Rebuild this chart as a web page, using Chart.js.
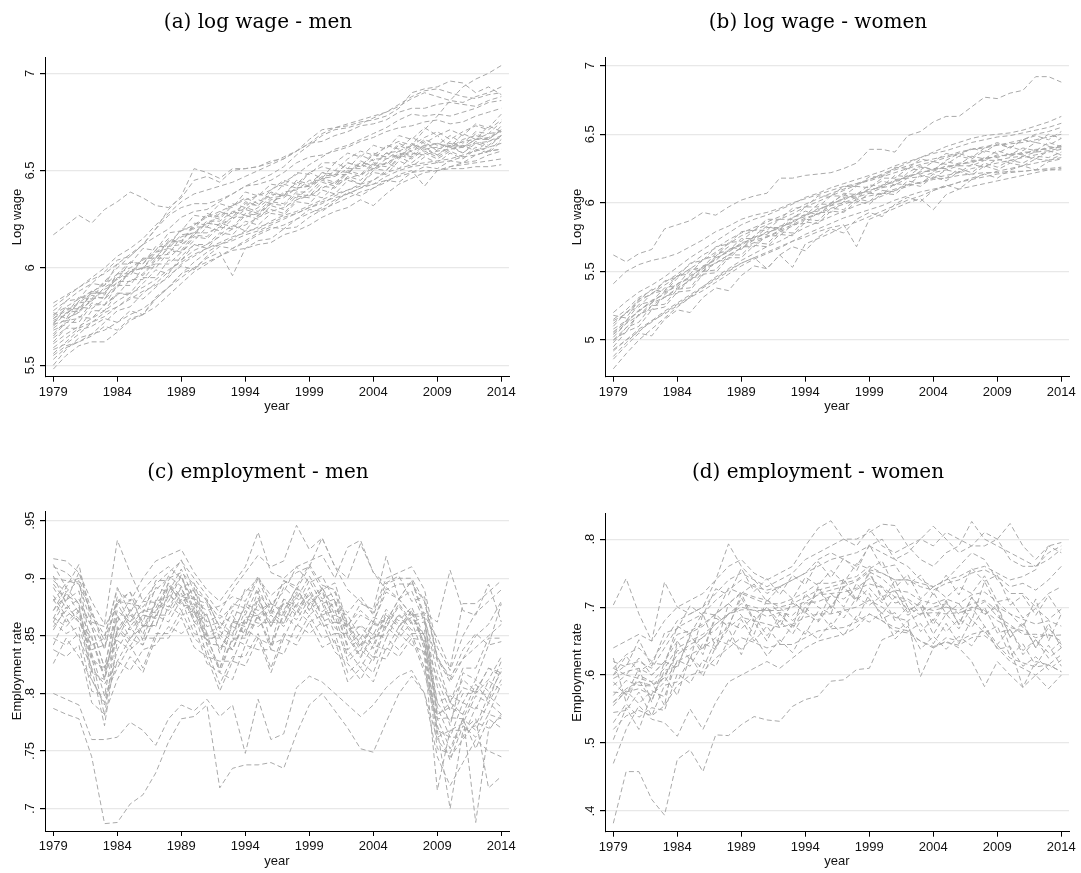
<!DOCTYPE html>
<html>
<head>
<meta charset="utf-8">
<script src="https://cdn.jsdelivr.net/npm/chart.js@4.4.0/dist/chart.umd.min.js"></script>
<style>
  body { margin: 0; background: #fff; width: 1081px; height: 873px; position: relative; overflow: hidden; }
  canvas { position: absolute; }
</style>
</head>
<body>
<canvas id="cA" width="540" height="436" style="left:0;top:0"></canvas>
<canvas id="cB" width="521" height="436" style="left:560px;top:0"></canvas>
<canvas id="cC" width="540" height="437" style="left:0;top:436px"></canvas>
<canvas id="cD" width="521" height="437" style="left:560px;top:436px"></canvas>
<script>
// years on the x axis
const years = [1979,1980,1981,1982,1983,1984,1985,1986,1987,1988,1989,1990,1991,1992,1993,1994,1995,1996,
               1997,1998,1999,2000,2001,2002,2003,2004,2005,2006,2007,2008,2009,2010,2011,2012,2013,2014];
const xTicks = [1979, 1984, 1989, 1994, 1999, 2004, 2009, 2014];

// tick labels of each panel
const ticksWageMen = [5.5, 6, 6.5, 7];
const ticksWageWomen = [5, 5.5, 6, 6.5, 7];
const ticksEmpMen = [0.7, 0.75, 0.8, 0.85, 0.9, 0.95];
const ticksEmpWomen = [0.4, 0.5, 0.6, 0.7, 0.8];

// (a) log wage - men, one row per state
const wageMen = [
  [6.17,6.22,6.27,6.23,6.30,6.34,6.39,6.36,6.32,6.31,6.36,6.45,6.47,6.44,6.50,6.51,6.52,6.55,6.56,6.60,6.66,6.71,6.72,6.73,6.75,6.76,6.78,6.82,6.90,6.92,6.93,6.96,6.95,6.90,6.93,6.89],
  [5.55,5.60,5.62,5.66,5.68,5.72,5.76,5.79,5.84,5.90,5.95,6.00,6.03,6.06,6.10,6.13,6.17,6.20,6.22,6.25,6.28,6.31,6.35,6.38,6.41,6.45,6.50,6.56,6.63,6.71,6.78,6.86,6.93,6.97,7.00,7.04],
  [5.82,5.86,5.90,5.95,6.00,6.06,6.10,6.15,6.22,6.28,6.34,6.38,6.40,6.42,6.44,6.47,6.50,6.53,6.56,6.60,6.64,6.69,6.72,6.74,6.76,6.78,6.80,6.84,6.88,6.91,6.92,6.90,6.88,6.87,6.89,6.90],
  [5.74,5.78,5.82,5.87,5.93,6.00,6.06,6.12,6.20,6.27,6.31,6.33,6.33,6.35,6.38,6.42,6.45,6.48,6.52,6.58,6.63,6.68,6.71,6.72,6.74,6.77,6.80,6.83,6.87,6.90,6.88,6.86,6.85,6.88,6.90,6.93],
  [5.80,5.85,5.90,5.94,5.97,6.02,6.07,6.12,6.20,6.30,6.37,6.51,6.49,6.46,6.51,6.51,6.52,6.54,6.57,6.60,6.64,6.65,6.68,6.70,6.73,6.74,6.76,6.80,6.82,6.82,6.84,6.85,6.84,6.83,6.86,6.88],
  [5.75,5.83,5.84,5.92,5.91,6.02,6.02,6.10,6.09,6.18,6.19,6.27,6.26,6.33,6.31,6.39,6.37,6.43,6.42,6.49,6.48,6.54,6.54,6.59,6.57,6.63,6.61,6.68,6.66,6.72,6.68,6.71,6.68,6.74,6.72,6.79],
  [5.72,5.76,5.85,5.84,5.93,5.94,6.03,6.02,6.11,6.11,6.20,6.20,6.28,6.26,6.33,6.31,6.38,6.36,6.43,6.41,6.49,6.46,6.54,6.51,6.58,6.55,6.63,6.61,6.67,6.64,6.68,6.62,6.69,6.66,6.73,6.70],
  [5.70,5.77,5.78,5.83,5.89,5.92,5.98,6.00,6.06,6.07,6.16,6.18,6.23,6.22,6.29,6.27,6.31,6.36,6.37,6.41,6.42,6.47,6.48,6.48,6.55,6.52,6.59,6.57,6.64,6.61,6.62,6.64,6.62,6.66,6.67,6.70],
  [5.68,5.71,5.80,5.79,5.84,5.93,5.93,5.97,6.05,6.05,6.11,6.18,6.18,6.21,6.26,6.26,6.28,6.34,6.33,6.39,6.39,6.45,6.43,6.50,6.48,6.54,6.53,6.59,6.57,6.62,6.58,6.63,6.59,6.65,6.63,6.68],
  [5.65,5.72,5.72,5.81,5.81,5.86,5.94,5.94,6.02,6.02,6.08,6.16,6.15,6.21,6.20,6.27,6.25,6.32,6.30,6.37,6.36,6.42,6.41,6.47,6.45,6.51,6.50,6.57,6.54,6.59,6.56,6.60,6.57,6.62,6.60,6.66],
  [5.73,5.76,5.82,5.83,5.90,5.94,5.99,6.00,6.08,6.10,6.17,6.18,6.24,6.24,6.29,6.30,6.35,6.33,6.39,6.40,6.45,6.45,6.50,6.49,6.54,6.53,6.59,6.60,6.63,6.62,6.64,6.62,6.65,6.66,6.69,6.70],
  [5.62,5.69,5.69,5.78,5.78,5.87,5.87,5.95,5.95,6.04,6.04,6.12,6.12,6.18,6.17,6.24,6.22,6.28,6.27,6.34,6.33,6.40,6.38,6.45,6.43,6.49,6.48,6.55,6.52,6.57,6.54,6.59,6.56,6.61,6.59,6.65],
  [5.50,5.58,5.64,5.66,5.72,5.78,5.80,5.87,5.92,5.98,6.04,6.09,6.12,6.16,6.20,6.22,6.26,6.29,6.31,6.35,6.37,6.41,6.44,6.46,6.48,6.51,6.54,6.57,6.59,6.58,6.60,6.61,6.62,6.64,6.65,6.68],
  [5.48,5.55,5.60,5.62,5.62,5.67,5.73,5.76,5.84,5.90,5.97,6.00,6.05,6.08,5.96,6.10,6.14,6.15,6.20,6.21,6.26,6.30,6.33,6.36,6.39,6.41,6.44,6.48,6.50,6.42,6.50,6.52,6.54,6.55,6.58,6.60],
  [5.53,5.59,5.62,5.65,5.70,5.68,5.74,5.76,5.80,5.86,5.92,5.98,6.02,6.06,6.09,6.10,6.12,6.13,6.17,6.19,6.22,6.26,6.29,6.31,6.35,6.32,6.38,6.43,6.46,6.49,6.50,6.52,6.53,6.54,6.55,6.56],
  [5.58,5.61,5.66,5.72,5.77,5.80,5.84,5.88,5.91,5.95,6.02,6.06,6.10,6.12,6.15,6.19,6.20,6.24,6.27,6.29,6.32,6.35,6.38,6.40,6.43,6.45,6.49,6.51,6.53,6.54,6.55,6.56,6.58,6.60,6.62,6.64],
  [5.78,5.83,5.88,5.92,5.98,6.04,6.06,6.12,6.16,6.20,6.26,6.29,6.30,6.34,6.38,6.42,6.43,6.45,6.49,6.54,6.57,6.58,6.60,6.62,6.65,6.67,6.70,6.72,6.73,6.75,6.76,6.74,6.75,6.78,6.80,6.82],
  [5.69,5.74,5.77,5.84,5.85,5.91,5.98,6.00,6.02,6.11,6.12,6.17,6.23,6.22,6.26,6.31,6.29,6.35,6.36,6.41,6.42,6.46,6.47,6.51,6.51,6.56,6.56,6.58,6.60,6.63,6.61,6.63,6.62,6.66,6.66,6.71],
  [5.66,5.73,5.74,5.82,5.81,5.91,5.91,6.00,6.00,6.08,6.09,6.17,6.16,6.23,6.21,6.28,6.27,6.33,6.32,6.38,6.37,6.44,6.42,6.49,6.47,6.53,6.52,6.58,6.56,6.61,6.58,6.62,6.59,6.64,6.62,6.68],
  [5.56,5.62,5.68,5.70,5.74,5.72,5.78,5.76,5.85,5.90,5.97,6.03,6.08,6.12,6.14,6.17,6.19,6.22,6.25,6.28,6.31,6.33,6.37,6.40,6.42,6.43,6.47,6.50,6.52,6.53,6.54,6.55,6.57,6.58,6.60,6.61],
  [5.76,5.80,5.84,5.88,5.91,5.97,6.00,6.04,6.08,6.13,6.19,6.22,6.26,6.29,6.32,6.35,6.37,6.40,6.44,6.48,6.53,6.57,6.61,6.63,6.66,6.69,6.72,6.76,6.79,6.78,6.79,6.78,6.80,6.82,6.85,6.86],
  [5.71,5.80,5.77,5.88,5.87,5.97,5.97,6.05,6.05,6.14,6.13,6.23,6.22,6.29,6.26,6.34,6.32,6.39,6.37,6.45,6.43,6.49,6.48,6.54,6.52,6.58,6.57,6.63,6.60,6.65,6.60,6.65,6.62,6.69,6.66,6.73],
  [5.61,5.66,5.70,5.74,5.78,5.83,5.87,5.90,5.94,5.99,6.03,6.07,6.10,6.13,6.16,6.18,6.21,6.23,6.26,6.28,6.31,6.34,6.36,6.38,6.41,6.43,6.45,6.47,6.49,6.50,6.50,6.51,6.51,6.52,6.52,6.53],
  [5.74,5.79,5.79,5.87,5.87,5.95,5.96,6.05,6.05,6.13,6.14,6.21,6.21,6.28,6.28,6.33,6.32,6.38,6.37,6.44,6.42,6.49,6.47,6.54,6.52,6.59,6.57,6.64,6.61,6.66,6.63,6.68,6.64,6.70,6.69,6.75],
  [5.77,5.74,5.83,5.88,5.86,5.97,6.03,6.02,6.09,6.15,6.13,6.22,6.27,6.25,6.32,6.36,6.33,6.40,6.45,6.43,6.49,6.52,6.50,6.56,6.60,6.58,6.62,6.65,6.63,6.67,6.70,6.66,6.70,6.73,6.71,6.76],
  [5.64,5.69,5.75,5.74,5.81,5.87,5.86,5.92,5.99,5.97,6.06,6.12,6.10,6.17,6.22,6.19,6.27,6.30,6.28,6.35,6.38,6.36,6.42,6.46,6.43,6.50,6.54,6.51,6.57,6.60,6.57,6.61,6.63,6.60,6.65,6.67],
  [5.71,5.73,5.79,5.86,5.84,5.90,5.98,5.96,6.04,6.10,6.08,6.14,6.21,6.19,6.25,6.30,6.28,6.33,6.38,6.36,6.41,6.46,6.44,6.49,6.53,6.51,6.56,6.60,6.58,6.63,6.64,6.62,6.66,6.68,6.66,6.71],
  [5.59,5.64,5.69,5.72,5.75,5.80,5.85,5.84,5.90,5.96,6.01,5.99,6.06,6.11,6.10,6.14,6.18,6.21,6.20,6.25,6.30,6.29,6.34,6.39,6.37,6.41,6.45,6.44,6.49,6.52,6.51,6.55,6.54,6.58,6.60,6.61]
];

// (b) log wage - women
const wageWomen = [
  [5.62,5.57,5.63,5.66,5.81,5.84,5.87,5.93,5.91,5.97,6.02,6.05,6.07,6.18,6.18,6.20,6.21,6.22,6.25,6.29,6.39,6.39,6.37,6.49,6.52,6.59,6.63,6.63,6.70,6.77,6.76,6.80,6.82,6.92,6.92,6.88],
  [5.41,5.50,5.55,5.58,5.60,5.63,5.68,5.73,5.79,5.83,5.88,5.91,5.93,5.96,6.00,6.03,6.06,6.09,6.12,6.14,6.16,6.19,6.22,6.25,6.28,6.30,6.33,6.36,6.39,6.40,6.42,6.44,6.46,6.50,6.52,6.55],
  [5.20,5.28,5.35,5.40,5.46,5.53,5.60,5.66,5.72,5.78,5.84,5.88,5.91,5.95,5.99,6.04,6.07,6.11,6.14,6.17,6.20,6.23,6.27,6.30,6.33,6.36,6.38,6.41,6.44,6.46,6.48,6.49,6.51,6.53,6.55,6.58],
  [5.15,5.22,5.31,5.36,5.42,5.48,5.55,5.62,5.67,5.73,5.78,5.82,5.86,5.90,5.94,5.99,6.03,6.07,6.10,6.14,6.17,6.20,6.24,6.27,6.30,6.32,6.34,6.37,6.39,6.41,6.42,6.43,6.44,6.46,6.48,6.50],
  [5.10,5.20,5.24,5.34,5.36,5.47,5.48,5.59,5.61,5.71,5.72,5.80,5.80,5.88,5.88,5.97,5.97,6.05,6.05,6.12,6.11,6.18,6.18,6.25,6.24,6.30,6.28,6.34,6.32,6.38,6.36,6.41,6.38,6.44,6.42,6.47],
  [5.05,5.14,5.21,5.29,5.33,5.41,5.45,5.54,5.58,5.66,5.69,5.75,5.77,5.83,5.85,5.92,5.94,6.00,6.02,6.07,6.08,6.13,6.15,6.20,6.21,6.25,6.25,6.29,6.29,6.33,6.33,6.36,6.35,6.39,6.39,6.42],
  [5.04,5.12,5.22,5.27,5.35,5.39,5.47,5.52,5.60,5.64,5.71,5.73,5.79,5.81,5.87,5.90,5.96,5.98,6.04,6.05,6.10,6.11,6.17,6.18,6.23,6.23,6.27,6.27,6.31,6.31,6.35,6.34,6.37,6.37,6.41,6.40],
  [5.00,5.06,5.19,5.22,5.32,5.34,5.45,5.47,5.57,5.59,5.68,5.68,5.76,5.76,5.84,5.85,5.93,5.93,6.01,6.00,6.07,6.06,6.14,6.13,6.20,6.18,6.24,6.22,6.28,6.26,6.32,6.29,6.34,6.32,6.38,6.35],
  [4.95,5.06,5.10,5.22,5.24,5.35,5.36,5.48,5.49,5.60,5.60,5.69,5.68,5.77,5.76,5.86,5.85,5.94,5.93,6.01,5.99,6.07,6.06,6.14,6.12,6.19,6.16,6.23,6.20,6.27,6.24,6.29,6.27,6.32,6.31,6.35],
  [4.79,4.90,5.00,5.08,5.16,5.24,5.31,5.39,5.46,5.52,5.58,5.63,5.68,5.72,5.77,5.82,5.86,5.90,5.94,5.98,6.01,6.05,6.09,6.12,6.15,6.18,6.20,6.22,6.25,6.27,6.29,6.31,6.33,6.35,6.37,6.39],
  [4.88,4.98,5.07,5.13,5.20,5.26,5.32,5.38,5.44,5.50,5.56,5.60,5.52,5.62,5.53,5.70,5.74,5.78,5.83,5.86,5.90,5.94,5.98,6.02,6.05,6.09,6.12,6.15,6.18,6.21,6.23,6.25,6.27,6.29,6.31,6.33],
  [4.92,5.00,5.06,5.14,5.19,5.25,5.31,5.36,5.42,5.48,5.54,5.59,5.63,5.67,5.72,5.75,5.79,5.82,5.84,5.68,5.88,5.92,5.96,6.00,6.03,5.95,6.06,6.10,6.12,6.14,6.16,6.18,6.20,6.22,6.24,6.25],
  [5.12,5.20,5.28,5.34,5.40,5.46,5.52,5.58,5.64,5.70,5.76,5.80,5.84,5.88,5.92,5.97,6.01,6.05,6.09,6.13,6.17,6.21,6.25,6.29,6.33,6.37,6.41,6.44,6.47,6.49,6.50,6.51,6.53,6.56,6.59,6.63],
  [5.02,5.12,5.18,5.27,5.31,5.38,5.43,5.52,5.56,5.62,5.67,5.73,5.75,5.80,5.84,5.89,5.92,5.98,6.00,6.04,6.07,6.11,6.13,6.18,6.19,6.22,6.24,6.27,6.27,6.31,6.31,6.33,6.34,6.37,6.38,6.40],
  [4.93,5.00,5.08,5.14,5.21,5.27,5.33,5.39,5.45,5.51,5.56,5.60,5.64,5.68,5.72,5.77,5.81,5.85,5.89,5.92,5.95,5.98,6.02,6.05,6.08,6.10,6.12,6.15,6.17,6.19,6.21,6.22,6.23,6.24,6.25,6.26],
  [5.08,5.14,5.26,5.28,5.38,5.40,5.51,5.53,5.63,5.65,5.74,5.74,5.82,5.82,5.90,5.91,5.99,5.99,6.07,6.06,6.13,6.12,6.20,6.19,6.26,6.24,6.30,6.28,6.34,6.32,6.38,6.35,6.40,6.38,6.44,6.41],
  [5.14,5.19,5.30,5.33,5.43,5.46,5.56,5.58,5.68,5.70,5.79,5.80,5.88,5.88,5.96,5.97,6.05,6.05,6.12,6.12,6.19,6.19,6.26,6.25,6.32,6.30,6.36,6.34,6.40,6.37,6.43,6.40,6.46,6.44,6.50,6.47],
  [4.98,5.09,5.13,5.25,5.26,5.37,5.38,5.50,5.51,5.62,5.62,5.71,5.70,5.79,5.78,5.88,5.87,5.96,5.95,6.03,6.01,6.09,6.08,6.16,6.14,6.21,6.18,6.25,6.22,6.29,6.26,6.31,6.29,6.34,6.33,6.37],
  [5.06,5.13,5.21,5.28,5.34,5.41,5.46,5.53,5.59,5.65,5.70,5.75,5.78,5.82,5.86,5.91,5.95,5.99,6.03,6.06,6.09,6.12,6.16,6.19,6.22,6.24,6.26,6.28,6.30,6.32,6.34,6.35,6.36,6.38,6.40,6.41],
  [5.00,5.09,5.18,5.25,5.31,5.37,5.44,5.50,5.56,5.62,5.67,5.71,5.75,5.79,5.83,5.88,5.92,5.96,5.99,6.02,6.05,6.07,6.10,6.13,6.15,6.17,6.18,6.20,6.21,6.22,6.22,6.23,6.23,6.24,6.24,6.24],
  [5.18,5.16,5.29,5.37,5.35,5.45,5.52,5.50,5.61,5.68,5.66,5.76,5.83,5.80,5.89,5.94,5.91,6.00,6.06,6.03,6.11,6.16,6.13,6.22,6.27,6.24,6.31,6.36,6.33,6.40,6.44,6.40,6.46,6.49,6.46,6.52],
  [4.86,4.96,5.05,5.03,5.15,5.22,5.20,5.31,5.38,5.36,5.47,5.54,5.52,5.62,5.68,5.65,5.75,5.81,5.78,5.88,5.93,5.90,5.99,6.04,6.01,6.09,6.13,6.10,6.17,6.21,6.18,6.24,6.27,6.24,6.30,6.32]
];

// (c) employment - men
const empMen = [
  [.787,.782,.778,.745,.687,.688,.704,.712,.731,.758,.778,.780,.790,.718,.735,.738,.738,.740,.735,.765,.790,.800,.785,.770,.752,.749,.775,.800,.815,.800,.745,.720,.740,.760,.750,.745],
  [.800,.795,.790,.760,.760,.762,.775,.768,.755,.778,.790,.785,.795,.780,.790,.748,.795,.760,.765,.805,.815,.810,.800,.790,.780,.790,.805,.815,.820,.800,.760,.745,.760,.775,.770,.780],
  [.917,.915,.905,.880,.860,.933,.905,.880,.895,.905,.915,.900,.885,.870,.890,.905,.920,.910,.915,.946,.925,.935,.910,.890,.880,.870,.900,.905,.910,.890,.840,.820,.850,.870,.880,.890],
  [.910,.905,.895,.870,.850,.890,.880,.900,.915,.920,.925,.905,.890,.880,.895,.910,.940,.905,.900,.910,.915,.920,.900,.927,.933,.905,.895,.900,.900,.880,.830,.810,.830,.850,.860,.880],
  [.895,.880,.905,.872,.838,.884,.862,.880,.879,.902,.893,.896,.862,.868,.861,.891,.887,.872,.898,.893,.912,.894,.890,.858,.878,.873,.919,.882,.889,.862,.806,.772,.818,.812,.842,.845],
  [.872,.892,.878,.818,.812,.852,.871,.846,.880,.884,.903,.872,.846,.851,.838,.866,.868,.871,.861,.886,.878,.890,.862,.858,.837,.861,.858,.878,.862,.866,.781,.792,.782,.808,.794,.822],
  [.862,.881,.889,.832,.781,.858,.846,.868,.866,.892,.884,.882,.842,.821,.862,.858,.889,.842,.882,.876,.898,.878,.882,.838,.848,.839,.868,.858,.869,.843,.788,.762,.792,.786,.811,.803],
  [.866,.858,.871,.812,.792,.838,.858,.842,.868,.868,.887,.862,.852,.818,.848,.848,.868,.838,.871,.864,.882,.862,.868,.832,.843,.831,.862,.852,.872,.838,.762,.768,.774,.798,.792,.812],
  [.892,.874,.882,.858,.822,.878,.858,.872,.874,.896,.878,.892,.858,.862,.852,.876,.868,.878,.872,.892,.872,.892,.872,.868,.848,.866,.862,.882,.868,.866,.818,.792,.812,.802,.822,.818],
  [.842,.866,.848,.822,.772,.846,.838,.848,.848,.876,.868,.872,.832,.828,.828,.856,.848,.842,.848,.872,.862,.868,.842,.838,.822,.842,.838,.858,.848,.846,.768,.762,.762,.788,.782,.808],
  [.882,.862,.872,.828,.822,.848,.868,.858,.878,.872,.892,.862,.868,.838,.858,.852,.878,.858,.878,.868,.888,.868,.872,.842,.852,.842,.868,.858,.872,.842,.768,.700,.768,.772,.798,.788],
  [.858,.872,.862,.848,.812,.868,.848,.858,.858,.888,.872,.878,.848,.848,.838,.862,.858,.868,.858,.878,.868,.878,.852,.852,.832,.852,.848,.868,.852,.852,.782,.788,.782,.688,.768,.782],
  [.862,.852,.858,.822,.808,.828,.848,.842,.868,.862,.882,.852,.848,.822,.848,.842,.868,.842,.868,.858,.878,.858,.862,.828,.838,.828,.858,.848,.862,.832,.716,.768,.768,.778,.718,.728],
  [.898,.888,.898,.838,.842,.862,.882,.862,.892,.888,.908,.882,.878,.848,.872,.868,.892,.868,.892,.882,.902,.882,.888,.852,.868,.862,.888,.882,.898,.868,.848,.822,.878,.878,.888,.898],
  [.872,.886,.878,.858,.822,.872,.862,.872,.870,.896,.884,.890,.852,.858,.850,.878,.872,.878,.870,.892,.882,.892,.868,.862,.842,.862,.862,.882,.868,.870,.862,.907,.872,.868,.895,.862],
  [.848,.842,.852,.802,.798,.822,.842,.822,.852,.852,.872,.848,.838,.808,.832,.832,.852,.822,.852,.848,.868,.848,.852,.818,.828,.818,.848,.838,.852,.822,.778,.752,.778,.768,.792,.782],
  [.900,.898,.895,.860,.840,.880,.878,.875,.890,.900,.905,.895,.880,.865,.875,.888,.900,.885,.895,.905,.910,.935,.910,.900,.930,.905,.890,.895,.895,.880,.830,.815,.830,.840,.850,.860],
  [.865,.888,.870,.850,.814,.866,.855,.868,.865,.894,.880,.884,.850,.854,.845,.872,.865,.872,.867,.888,.877,.888,.862,.860,.840,.860,.857,.876,.860,.862,.792,.798,.792,.812,.802,.828],
  [.838,.832,.842,.792,.782,.812,.832,.818,.848,.848,.866,.840,.832,.802,.828,.824,.848,.818,.848,.842,.862,.840,.846,.810,.822,.810,.840,.832,.848,.818,.772,.742,.772,.762,.782,.778],
  [.912,.892,.912,.862,.858,.878,.888,.870,.898,.898,.916,.888,.882,.856,.878,.874,.900,.872,.898,.890,.910,.890,.896,.860,.872,.862,.892,.882,.898,.864,.828,.792,.822,.822,.848,.848],
  [.855,.875,.865,.835,.798,.857,.841,.859,.859,.885,.877,.875,.843,.842,.838,.865,.861,.862,.861,.883,.873,.881,.857,.849,.831,.849,.851,.869,.855,.855,.778,.779,.778,.802,.798,.819],
  [.885,.867,.875,.831,.819,.855,.873,.851,.881,.875,.893,.865,.869,.835,.863,.861,.883,.861,.879,.875,.885,.871,.879,.849,.859,.851,.873,.863,.875,.849,.812,.785,.805,.801,.822,.815],
  [.902,.878,.862,.842,.848,.892,.870,.890,.902,.910,.900,.880,.872,.876,.884,.880,.902,.878,.888,.910,.896,.902,.880,.870,.884,.868,.896,.902,.880,.884,.832,.812,.838,.852,.842,.878],
  [.826,.848,.832,.812,.790,.828,.820,.838,.842,.858,.852,.860,.826,.818,.812,.842,.838,.838,.834,.860,.852,.862,.836,.826,.812,.832,.830,.852,.842,.836,.752,.748,.778,.752,.778,.770],
  [.880,.896,.900,.868,.846,.880,.888,.858,.872,.880,.902,.868,.880,.858,.868,.850,.882,.858,.882,.870,.892,.866,.880,.856,.858,.846,.870,.860,.866,.850,.792,.776,.800,.800,.812,.832]
];

// (d) employment - women
const empWomen = [
  [.382,.458,.458,.417,.394,.476,.490,.458,.512,.511,.527,.539,.534,.532,.554,.564,.569,.591,.593,.608,.610,.652,.660,.680,.690,.700,.705,.690,.700,.695,.680,.670,.665,.655,.660,.650],
  [.470,.520,.555,.535,.530,.510,.550,.520,.560,.590,.600,.610,.620,.610,.625,.640,.650,.655,.660,.670,.690,.680,.670,.665,.650,.640,.655,.650,.660,.665,.640,.620,.610,.600,.615,.605],
  [.703,.742,.690,.650,.737,.700,.690,.700,.740,.793,.760,.740,.720,.730,.740,.750,.770,.780,.770,.760,.790,.800,.770,.760,.740,.730,.740,.760,.780,.770,.740,.720,.720,.700,.720,.730],
  [.640,.650,.660,.650,.680,.700,.710,.720,.740,.760,.770,.750,.740,.750,.760,.790,.816,.827,.800,.790,.815,.790,.780,.790,.800,.790,.810,.800,.790,.810,.800,.770,.760,.760,.780,.790],
  [.610,.630,.640,.620,.650,.680,.690,.700,.720,.740,.750,.740,.730,.740,.750,.770,.780,.790,.800,.800,.810,.822,.820,.790,.770,.760,.780,.790,.826,.800,.790,.780,.770,.760,.770,.785],
  [.600,.615,.620,.610,.640,.670,.680,.690,.710,.725,.740,.730,.725,.730,.740,.750,.760,.770,.775,.780,.790,.780,.770,.780,.800,.819,.800,.780,.790,.790,.800,.823,.790,.770,.790,.780],
  [.600,.628,.605,.618,.615,.672,.660,.692,.688,.728,.720,.734,.708,.730,.712,.744,.732,.754,.736,.764,.756,.768,.728,.748,.712,.730,.714,.730,.720,.746,.708,.712,.684,.698,.682,.697],
  [.570,.592,.585,.584,.596,.636,.638,.656,.666,.690,.696,.696,.686,.692,.688,.706,.708,.716,.712,.726,.734,.729,.706,.710,.690,.692,.690,.692,.696,.708,.686,.674,.660,.660,.658,.659],
  [.545,.548,.575,.540,.585,.590,.625,.610,.652,.645,.682,.650,.672,.646,.674,.660,.694,.670,.698,.680,.720,.683,.692,.664,.676,.646,.676,.646,.682,.662,.672,.628,.646,.614,.644,.613],
  [.590,.570,.610,.560,.620,.610,.660,.630,.690,.670,.720,.680,.700,.670,.710,.690,.730,.700,.730,.710,.750,.715,.725,.695,.705,.680,.710,.675,.715,.690,.700,.655,.675,.640,.670,.645],
  [.530,.558,.538,.552,.548,.602,.588,.622,.613,.652,.638,.657,.628,.652,.633,.667,.653,.677,.658,.687,.678,.692,.653,.672,.638,.657,.638,.657,.643,.672,.638,.642,.613,.627,.608,.622],
  [.620,.612,.652,.613,.662,.668,.702,.688,.727,.718,.757,.723,.742,.718,.747,.733,.767,.743,.772,.753,.792,.758,.762,.733,.747,.718,.747,.718,.757,.738,.747,.703,.717,.688,.717,.688],
  [.560,.575,.580,.570,.590,.620,.630,.640,.655,.670,.685,.680,.675,.670,.675,.685,.690,.690,.695,.700,.710,.700,.685,.680,.598,.640,.650,.640,.620,.583,.620,.600,.582,.600,.580,.600],
  [.560,.580,.590,.585,.600,.630,.645,.655,.675,.690,.700,.695,.695,.700,.705,.715,.725,.730,.735,.740,.755,.750,.740,.740,.735,.730,.740,.745,.755,.760,.750,.740,.745,.755,.790,.795],
  [.520,.540,.548,.540,.555,.585,.600,.605,.625,.640,.655,.648,.640,.645,.645,.655,.665,.668,.670,.678,.690,.680,.665,.662,.650,.642,.648,.644,.655,.658,.644,.625,.618,.612,.615,.605],
  [.610,.600,.625,.600,.620,.660,.665,.675,.690,.705,.720,.712,.705,.705,.712,.722,.735,.735,.740,.745,.760,.750,.740,.740,.730,.725,.735,.740,.750,.755,.745,.730,.735,.725,.740,.760],
  [.585,.600,.595,.590,.610,.640,.650,.660,.675,.690,.705,.700,.695,.695,.700,.708,.718,.720,.722,.728,.742,.730,.715,.712,.700,.695,.700,.695,.705,.710,.695,.640,.582,.620,.615,.630],
  [.555,.577,.558,.577,.568,.622,.613,.647,.638,.677,.668,.687,.658,.680,.660,.692,.678,.704,.684,.714,.703,.717,.680,.700,.664,.682,.664,.682,.670,.700,.662,.667,.636,.652,.633,.650],
  [.595,.605,.610,.600,.620,.650,.662,.672,.690,.705,.722,.715,.710,.700,.680,.700,.720,.725,.730,.738,.752,.742,.725,.722,.710,.705,.712,.705,.718,.722,.708,.690,.682,.675,.680,.672],
  [.575,.573,.592,.563,.607,.613,.657,.638,.684,.672,.714,.678,.700,.678,.706,.693,.727,.698,.730,.708,.754,.710,.724,.692,.708,.674,.708,.674,.714,.688,.704,.656,.678,.640,.676,.640],
  [.625,.560,.600,.590,.555,.650,.622,.690,.640,.705,.688,.660,.712,.690,.672,.720,.700,.690,.742,.710,.728,.706,.740,.700,.688,.722,.690,.705,.680,.738,.700,.690,.670,.712,.650,.690],
  [.505,.552,.520,.572,.598,.570,.628,.598,.642,.668,.630,.678,.650,.690,.668,.700,.680,.720,.700,.735,.712,.690,.715,.688,.700,.660,.690,.668,.700,.672,.645,.668,.630,.652,.625,.640]
];

const LINE_GRAY = '#a9a9a9';
const sansFont = { family: 'Liberation Sans, Arial, sans-serif', size: 13 };
const titleFont = { family: 'DejaVu Serif, serif', size: 20, weight: 'normal', lineHeight: 1.2 };

// Stata style: no leading zero
function fmt(v) {
  return String(+v.toFixed(2)).replace(/^0\./, '.');
}

function drawPanel(id, p) {
  const canvas = document.getElementById(id);
  const padTop = p.titleY - 12;
  const padBottom = p.plotTop - padTop - 24;

  const datasets = p.lines.map((vals, k) => ({
    label: p.title + ' ' + (k + 1),
    data: vals.map((v, i) => ({ x: years[i], y: v })),
    borderColor: LINE_GRAY,
    borderWidth: 1,
    borderDash: [5, 3],
    pointRadius: 0,
    fill: false,
    tension: 0
  }));

  return new Chart(canvas, {
    type: 'line',
    data: { datasets: datasets },
    options: {
      responsive: false,
      animation: false,
      events: [],
      layout: {
        padding: { left: 7, right: canvas.width - 509, top: 0, bottom: canvas.height - p.plotBottom - 40 }
      },
      plugins: {
        legend: { display: false },
        tooltip: { enabled: false },
        title: {
          display: true,
          text: p.title,
          color: '#000',
          font: titleFont,
          padding: { top: padTop, bottom: padBottom }
        }
      },
      scales: {
        x: {
          type: 'linear',
          bounds: 'data',
          min: 1978.35,
          max: 2014.6,
          afterBuildTicks: s => { s.ticks = xTicks.map(v => ({ value: v })); },
          afterFit: s => { s.height = 40; s.paddingLeft = 0; s.paddingRight = 0; },
          ticks: { callback: v => String(v), font: sansFont, color: '#111', padding: 3, maxRotation: 0, autoSkip: false },
          grid: { drawOnChartArea: false, tickLength: 5, tickColor: '#000' },
          border: { color: '#000', width: 1 },
          title: { display: true, text: 'year', font: sansFont, color: '#111', padding: { top: 0, bottom: 2 } }
        },
        y: {
          type: 'linear',
          bounds: 'data',
          min: p.yMin,
          max: p.yMax,
          afterBuildTicks: s => { s.ticks = p.ticks.map(v => ({ value: v })); },
          afterFit: s => { s.width = 38; s.paddingTop = 0; s.paddingBottom = 0; },
          ticks: {
            callback: v => fmt(v),
            minRotation: 90, maxRotation: 90,
            crossAlign: 'center',
            padding: p.tickPad,
            font: sansFont, color: '#111', autoSkip: false
          },
          grid: { color: '#e8e8e8', lineWidth: 1.2, tickLength: 5, tickColor: '#000' },
          border: { color: '#000', width: 1 },
          title: { display: true, text: p.yTitle, font: sansFont, color: '#111', padding: { top: 2.5, bottom: 0 } }
        }
      }
    }
  });
}

drawPanel('cA', { title: '(a) log wage - men', yTitle: 'Log wage', lines: wageMen, ticks: ticksWageMen,
  yMin: 5.441, yMax: 7.082, titleY: 23, plotTop: 57.3, plotBottom: 376.7, tickPad: 1 });
drawPanel('cB', { title: '(b) log wage - women', yTitle: 'Log wage', lines: wageWomen, ticks: ticksWageWomen,
  yMin: 4.7325, yMax: 7.061, titleY: 23, plotTop: 57.3, plotBottom: 376.7, tickPad: 1 });
drawPanel('cC', { title: '(c) employment - men', yTitle: 'Employment rate', lines: empMen, ticks: ticksEmpMen,
  yMin: 0.6806, yMax: 0.9584, titleY: 37, plotTop: 75, plotBottom: 395, tickPad: 1 });
drawPanel('cD', { title: '(d) employment - women', yTitle: 'Employment rate', lines: empWomen, ticks: ticksEmpWomen,
  yMin: 0.3696, yMax: 0.838, titleY: 36.5, plotTop: 77.3, plotBottom: 395.7, tickPad: 4.6 });
</script>
</body>
</html>
